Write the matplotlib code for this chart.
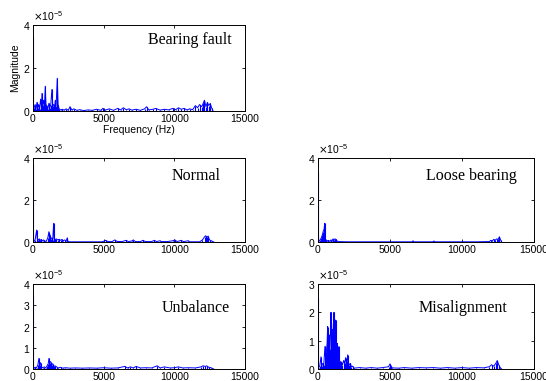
import numpy as np
import matplotlib
matplotlib.use('Agg')
import matplotlib.pyplot as plt

# spectra: (frequency Hz, magnitude x 1e-5)
bearing_fault = [(0, 3.45), (30, 0.05), (80, 0.15), (150, 0.3), (220, 0.1), (283, 0.4), (330, 0.12),
                 (400, 0.3), (470, 0.1), (540, 0.55), (600, 0.2), (640, 0.82), (690, 0.3), (750, 0.5),
                 (810, 0.15), (870, 1.15), (920, 0.3), (980, 0.25), (1050, 0.1), (1130, 0.36), (1190, 0.15),
                 (1260, 0.3), (1340, 1.0), (1400, 0.25), (1470, 0.3), (1530, 0.15), (1580, 0.5), (1640, 0.25),
                 (1720, 1.52), (1780, 0.3), (1850, 0.1), (1950, 0.05), (2080, 0.08), (2200, 0.04), (2350, 0.1),
                 (2500, 0.03), (2620, 0.2), (2750, 0.05), (2900, 0.1), (3100, 0.03), (3300, 0.06), (3600, 0.02),
                 (3900, 0.05), (4200, 0.03), (4500, 0.08), (4800, 0.03), (4950, 0.12), (5100, 0.04), (5400, 0.1),
                 (5700, 0.03), (6000, 0.12), (6200, 0.05), (6400, 0.15), (6600, 0.06), (6800, 0.1), (7000, 0.04),
                 (7300, 0.08), (7600, 0.03), (7900, 0.1), (8050, 0.2), (8200, 0.05), (8500, 0.08), (8700, 0.12),
                 (9000, 0.04), (9300, 0.08), (9600, 0.05), (9900, 0.12), (10100, 0.06), (10300, 0.15),
                 (10500, 0.08), (10700, 0.12), (10900, 0.05), (11100, 0.1), (11300, 0.06), (11500, 0.25),
                 (11650, 0.15), (11800, 0.3), (11950, 0.2), (12050, 0.35), (12140, 0.5), (12250, 0.2),
                 (12350, 0.4), (12450, 0.25), (12550, 0.35), (12650, 0.15), (12750, 0.0)]

normal = [(0, 3.7), (40, 0.05), (150, 0.1), (260, 0.57), (300, 0.15), (380, 0.1), (450, 0.15), (520, 0.08),
          (600, 0.12), (680, 0.05), (760, 0.1), (850, 0.03), (950, 0.05), (1050, 0.2), (1130, 0.49),
          (1170, 0.2), (1200, 0.35), (1260, 0.15), (1330, 0.2), (1400, 0.1), (1460, 0.89), (1500, 0.15),
          (1580, 0.12), (1660, 0.15), (1750, 0.1), (1850, 0.13), (1950, 0.08), (2050, 0.12), (2150, 0.06),
          (2250, 0.1), (2350, 0.05), (2430, 0.2), (2480, 0.02), (2600, 0.01), (3500, 0.01), (4900, 0.01),
          (5050, 0.05), (5150, 0.08), (5300, 0.02), (5600, 0.02), (5800, 0.1), (5950, 0.03), (6300, 0.02),
          (6600, 0.08), (6750, 0.02), (7000, 0.05), (7100, 0.1), (7250, 0.02), (7600, 0.02), (7800, 0.08),
          (7950, 0.02), (8400, 0.02), (8600, 0.08), (8750, 0.02), (9000, 0.06), (9100, 0.02), (9500, 0.02),
          (9900, 0.06), (10050, 0.1), (10200, 0.02), (10500, 0.08), (10650, 0.02), (11000, 0.06),
          (11100, 0.01), (11800, 0.01), (12000, 0.1), (12150, 0.25), (12230, 0.3), (12300, 0.22),
          (12400, 0.28), (12500, 0.1), (12650, 0.05), (12800, 0.0)]

loose_bearing = [(0, 3.35), (40, 0.05), (150, 0.1), (230, 0.2), (300, 0.33), (360, 0.5), (420, 0.6),
                 (465, 0.89), (500, 0.15), (560, 0.1), (640, 0.05), (720, 0.08), (800, 0.03), (900, 0.1),
                 (980, 0.05), (1040, 0.15), (1100, 0.1), (1180, 0.15), (1260, 0.12), (1320, 0.05),
                 (1450, 0.02), (2000, 0.01), (4000, 0.01), (6550, 0.01), (6600, 0.06), (6650, 0.01),
                 (8000, 0.01), (8050, 0.05), (8100, 0.01), (11000, 0.01), (11900, 0.02), (12000, 0.08),
                 (12100, 0.05), (12200, 0.12), (12300, 0.08), (12400, 0.15), (12500, 0.12), (12600, 0.25),
                 (12680, 0.1), (12750, 0.0)]

unbalance = [(0, 3.5), (40, 0.05), (150, 0.08), (250, 0.05), (350, 0.2), (420, 0.5), (480, 0.2), (540, 0.3),
             (600, 0.1), (700, 0.06), (800, 0.1), (900, 0.05), (1000, 0.15), (1080, 0.25), (1130, 0.5),
             (1180, 0.3), (1250, 0.35), (1320, 0.2), (1400, 0.25), (1480, 0.12), (1560, 0.15), (1670, 0.1),
             (1800, 0.05), (1950, 0.08), (2100, 0.04), (2300, 0.06), (2600, 0.04), (3000, 0.05), (3500, 0.04),
             (4000, 0.05), (4500, 0.04), (5000, 0.06), (5500, 0.04), (6000, 0.05), (6500, 0.12), (6700, 0.05),
             (6900, 0.1), (7100, 0.05), (7300, 0.12), (7600, 0.05), (8000, 0.06), (8400, 0.05), (8800, 0.15),
             (9000, 0.05), (9300, 0.1), (9700, 0.05), (10000, 0.06), (10300, 0.1), (10600, 0.05),
             (11000, 0.06), (11500, 0.05), (11900, 0.1), (12050, 0.15), (12200, 0.12), (12300, 0.15),
             (12450, 0.08), (12600, 0.06), (12800, 0.0)]

misalignment = [(0, 2.5), (40, 0.05), (120, 0.1), (210, 0.43), (260, 0.1), (330, 0.2), (400, 0.15),
                (485, 0.8), (530, 0.3), (580, 0.6), (630, 0.9), (670, 1.5), (710, 0.6), (750, 1.0),
                (785, 1.2), (830, 0.7), (870, 1.4), (900, 2.0), (940, 0.8), (990, 1.4), (1030, 0.9),
                (1070, 1.6), (1110, 2.0), (1150, 1.0), (1190, 1.4), (1230, 1.73), (1270, 0.7), (1310, 0.6),
                (1340, 0.9), (1380, 0.4), (1420, 0.6), (1460, 0.79), (1500, 0.3), (1560, 0.2), (1620, 0.25),
                (1700, 0.15), (1780, 0.3), (1850, 0.2), (1920, 0.4), (1970, 0.2), (2020, 0.3), (2060, 0.5),
                (2110, 0.2), (2180, 0.15), (2250, 0.2), (2320, 0.08), (2400, 0.1), (2500, 0.03), (2900, 0.05),
                (3300, 0.03), (3700, 0.05), (4100, 0.03), (4500, 0.05), (4900, 0.08), (5000, 0.18),
                (5080, 0.1), (5150, 0.04), (5600, 0.03), (6000, 0.05), (6500, 0.03), (7000, 0.05),
                (7500, 0.04), (8000, 0.05), (8500, 0.03), (9000, 0.05), (9500, 0.03), (10000, 0.05),
                (10500, 0.03), (11000, 0.05), (11500, 0.04), (11900, 0.08), (12050, 0.15), (12200, 0.1),
                (12350, 0.2), (12450, 0.3), (12550, 0.15), (12650, 0.05), (12750, 0.0)]

titles = ['Bearing fault', 'Normal', 'Loose bearing', 'Unbalance', 'Misalignment']
spectra = [bearing_fault, normal, loose_bearing, unbalance, misalignment]
y_ticks = [[0, 2, 4], [0, 2, 4], [0, 2, 4], [0, 1, 2, 3, 4], [0, 1, 2, 3]]
x_ticks = [0, 5000, 10000, 15000]

# axes boxes in figure fraction [left, bottom, width, height]
boxes = [[0.0604, 0.7087, 0.388, 0.2257],
         [0.0604, 0.3648, 0.388, 0.2205],
         [0.5824, 0.3648, 0.3956, 0.2205],
         [0.0604, 0.0315, 0.388, 0.223],
         [0.5824, 0.0315, 0.3956, 0.223]]
label_pos = [(0.74, 0.83), (0.77, 0.79), (0.71, 0.79), (0.77, 0.72), (0.67, 0.72)]

plt.rcParams['font.family'] = ['Liberation Sans', 'DejaVu Sans']
fig = plt.figure(figsize=(5.46, 3.81), dpi=100)

for i in range(5):
    ax = fig.add_axes(boxes[i])
    f = np.array([p[0] for p in spectra[i]])
    m = np.array([p[1] for p in spectra[i]]) * 1e-5
    # spiky look: a vertical stroke per sample plus the joining line
    ax.vlines(f, 0, m, color='blue', lw=0.8)
    ax.plot(f, m, color='blue', lw=0.7)
    ax.set_xlim(0, 15000)
    ax.set_ylim(0, y_ticks[i][-1] * 1e-5)
    ax.set_xticks(x_ticks)
    ax.set_yticks(np.array(y_ticks[i]) * 1e-5)
    ax.ticklabel_format(axis='y', style='sci', scilimits=(0, 0), useMathText=True)
    ax.yaxis.get_offset_text().set_fontsize(7.5)
    ax.tick_params(direction='in', top=True, right=True, labelsize=7.5, length=2.5, width=0.6, pad=2)
    for s in ax.spines.values():
        s.set_linewidth(0.7)
    ax.text(label_pos[i][0], label_pos[i][1], titles[i], transform=ax.transAxes,
            ha='center', va='center', fontsize=11.5, family='Liberation Serif')
    if i == 0:
        ax.set_xlabel('Frequency (Hz)', fontsize=7.5, labelpad=1)
        ax.set_ylabel('Magnitude', fontsize=7.5, labelpad=2)

fig.savefig('out.png', dpi=100)
